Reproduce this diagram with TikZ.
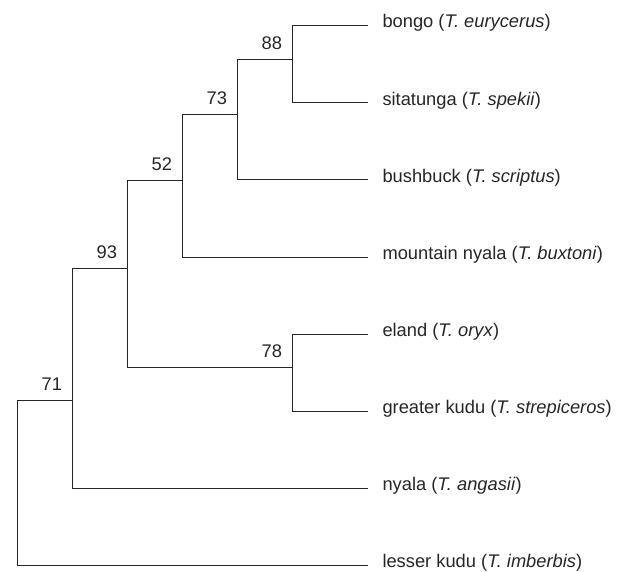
\documentclass[tikz,border=0pt]{standalone}
\usepackage{fontspec}
\setmainfont{Liberation Sans}
\begin{document}
\begin{tikzpicture}[x=1pt,y=-1pt,
  branch/.style={draw=black!85, line width=1pt},
  taxon/.style={anchor=base west, inner sep=0pt, xshift=14pt, yshift=-2.4pt, text=black!85, font=\fontsize{18.3}{21}\selectfont},
  support/.style={anchor=south east, inner sep=0pt, xshift=-10.5pt, yshift=9.5pt, text=black!85, font=\fontsize{18.3}{21}\selectfont}]
\useasboundingbox (0,0) rectangle (623,571);
% internal nodes (x of node, y of incoming branch)
\coordinate (root) at (17.3,400.2);
\coordinate (n71) at (72.7,400.2);
\coordinate (n93) at (127.7,268.7);
\coordinate (n52) at (182.7,180.5);
\coordinate (n73) at (237.7,114.3);
\coordinate (n88) at (292.7,59.7);
\coordinate (n78) at (292.7,367.0);
% leaf ends
\coordinate (l1) at (368.3,25.5);
\coordinate (l2) at (368.3,102.6);
\coordinate (l3) at (368.3,179.9);
\coordinate (l4) at (368.3,257.0);
\coordinate (l5) at (368.3,334.0);
\coordinate (l6) at (368.3,411.1);
\coordinate (l7) at (368.3,488.3);
\coordinate (l8) at (368.3,565.3);
% taxon labels
\node[taxon] (t1) at (l1) {bongo (\textit{T. eurycerus})};
\node[taxon] (t2) at (l2) {sitatunga (\textit{T. spekii})};
\node[taxon] (t3) at (l3) {bushbuck (\textit{T. scriptus})};
\node[taxon] (t4) at (l4) {mountain nyala (\textit{T. buxtoni})};
\node[taxon] (t5) at (l5) {eland (\textit{T. oryx})};
\node[taxon] (t6) at (l6) {greater kudu (\textit{T. strepiceros})};
\node[taxon] (t7) at (l7) {nyala (\textit{T. angasii})};
\node[taxon] (t8) at (l8) {lesser kudu (\textit{T. imberbis})};
% branches
\draw[branch] (root) |- (n71);
\draw[branch] (root) |- (l8);
\draw[branch] (n71) |- (n93);
\draw[branch] (n71) |- (l7);
\draw[branch] (n93) |- (n52);
\draw[branch] (n93) |- (n78);
\draw[branch] (n78) |- (l5);
\draw[branch] (n78) |- (l6);
\draw[branch] (n52) |- (n73);
\draw[branch] (n52) |- (l4);
\draw[branch] (n73) |- (n88);
\draw[branch] (n73) |- (l3);
\draw[branch] (n88) |- (l1);
\draw[branch] (n88) |- (l2);
% support values
\node[support] (s71) at (n71) {71};
\node[support] (s93) at (n93) {93};
\node[support] (s52) at (n52) {52};
\node[support] (s73) at (n73) {73};
\node[support] (s88) at (n88) {88};
\node[support] (s78) at (n78) {78};
\end{tikzpicture}
\end{document}
